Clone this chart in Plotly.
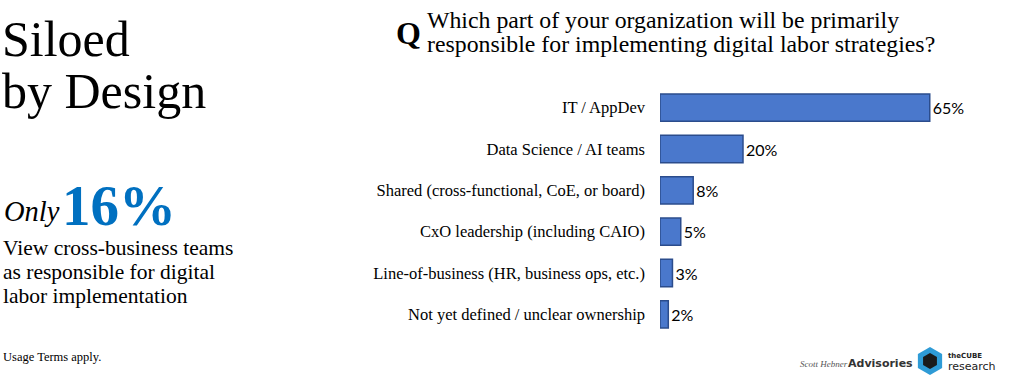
import math
import plotly.graph_objects as go

categories = [
    "IT / AppDev",
    "Data Science / AI teams",
    "Shared (cross-functional, CoE, or board)",
    "CxO leadership (including CAIO)",
    "Line-of-business (HR, business ops, etc.)",
    "Not yet defined / unclear ownership",
]
values = [65, 20, 8, 5, 3, 2]
value_labels = [f"{v}%" for v in values]

SERIF = "Liberation Serif, Times New Roman, serif"
SANS = "Lato, Open Sans, sans-serif"

fig = go.Figure()
fig.add_trace(go.Bar(
    x=values,
    y=categories,
    orientation="h",
    width=0.66,
    marker=dict(color="#4A78CC", line=dict(color="#2B4C8C", width=1.5)),
    text=value_labels,
    textposition="outside",
    cliponaxis=False,
    textfont=dict(family=SANS, size=16, color="#000000"),
    hoverinfo="skip",
))

fig.update_layout(
    width=1024, height=387,
    margin=dict(l=660, r=32, t=87, b=52),
    paper_bgcolor="white", plot_bgcolor="white",
    showlegend=False,
    xaxis=dict(range=[0, 80], visible=False, fixedrange=True),
    yaxis=dict(
        autorange="reversed",
        showgrid=False, zeroline=False, showline=False,
        ticks="", ticklabelstandoff=14, fixedrange=True,
        tickfont=dict(family=SERIF, size=16.5, color="#000000"),
    ),
)

ann = []
def text(x, y, s, size, color="#000000", family=SERIF, xanchor="left", yanchor="middle"):
    ann.append(dict(x=x, y=y, xref="paper", yref="paper", text=s, showarrow=False,
                    xanchor=xanchor, yanchor=yanchor,
                    font=dict(family=family, size=size, color=color)))

# convert pixel coords to paper coords
PL, PR, PT, PB = 660, 992, 87, 335
def px(x):
    return (x - PL) / (PR - PL)
def py(y):
    return (PB - y) / (PB - PT)

text(px(0), py(39), "Siloed", 50)
text(px(0), py(91), "by Design", 50)
text(px(2), py(211), "<i>Only</i>", 28.5)
text(px(60), py(205), "<b>16%</b>", 57, color="#0070C0")
text(px(1), py(248), "View cross-business teams", 21.5)
text(px(1), py(272), "as responsible for digital", 21.5)
text(px(1), py(296), "labor implementation", 21.5)
text(px(1), py(357), "Usage Terms apply.", 12.5)

text(px(394), py(33), "<b>Q</b>", 32)
text(px(425), py(20), "Which part of your organization will be primarily", 23.8)
text(px(425), py(44), "responsible for implementing digital labor strategies?", 23.8)

# footer logos (approximated as text)
text(px(798), py(364), "<i>Scott Hebner</i>", 9, color="#555555", family=SERIF)
text(px(846), py(363), "<b>Advisories</b>", 11, color="#333333", family="DejaVu Sans, sans-serif")
text(px(946), py(356), "<b>theCUBE</b>", 7, color="#222222", family="DejaVu Sans, sans-serif")
text(px(946), py(366), "research", 11, color="#222222", family="DejaVu Sans, sans-serif")

fig.update_layout(annotations=ann)

# hexagon logo
hx, hy, r = 930, 361, 14
pts = [(hx + r * math.cos(math.radians(a)), hy + r * math.sin(math.radians(a))) for a in range(30, 390, 60)]
path = "M " + " L ".join(f"{px(x)},{py(y)}" for x, y in pts) + " Z"
fig.add_shape(type="path", path=path, xref="paper", yref="paper",
              fillcolor="#2E9BD6", line=dict(width=0))
pts2 = [(hx + 8 * math.cos(math.radians(a)), hy + 8 * math.sin(math.radians(a))) for a in range(30, 390, 60)]
path2 = "M " + " L ".join(f"{px(x)},{py(y)}" for x, y in pts2) + " Z"
fig.add_shape(type="path", path=path2, xref="paper", yref="paper",
              fillcolor="#1a1a1a", line=dict(width=0))

fig.write_html("out.html", config={"displayModeBar": False},
               post_script="document.body.style.margin='0';document.body.style.padding='0';")
